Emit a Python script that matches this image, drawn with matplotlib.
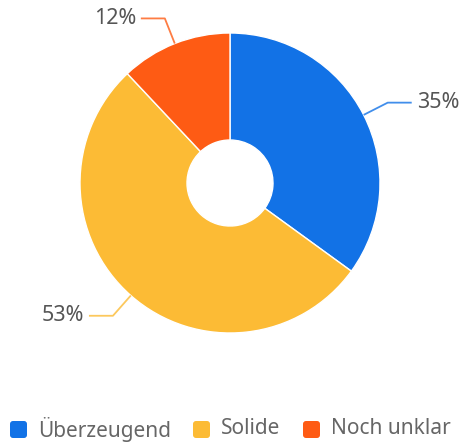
import numpy as np
import matplotlib
matplotlib.use("Agg")
from matplotlib import pyplot as plt
from matplotlib.patches import FancyBboxPatch

labels = ["Überzeugend", "Solide", "Noch unklar"]
values = [35, 53, 12]
colors = ["#1272e6", "#fcbb35", "#fe5b14"]

plt.rcParams["font.family"] = ["Noto Sans", "DejaVu Sans"]

fig = plt.figure(figsize=(4.69, 4.42), dpi=100)
ax = fig.add_axes([0, 0, 1, 1])
ax.axis("off")

cx, cy = 230, 259
r = 150
wedges, _ = ax.pie(values, colors=colors, startangle=90, counterclock=False,
                   radius=r, center=(cx, cy),
                   wedgeprops=dict(width=107, edgecolor="white", linewidth=1))
ax.set_xlim(0, 469)
ax.set_ylim(0, 442)

# labels with elbow leader lines
for w, v, c in zip(wedges, values, colors):
    ang = np.deg2rad((w.theta1 + w.theta2) / 2)
    x0, y0 = cx + r * np.cos(ang), cy + r * np.sin(ang)
    x1, y1 = cx + (r + 27) * np.cos(ang), cy + (r + 27) * np.sin(ang)
    side = 1 if np.cos(ang) > 0 else -1
    x2 = x1 + side * 24
    ax.plot([x0, x1, x2], [y0, y1, y1], color=c, lw=1.3, alpha=0.8,
            solid_capstyle="butt")
    ax.text(x2 + side * 5, y1, f"{v}%", ha="left" if side > 0 else "right",
            va="center", fontsize=15.5, color="#555555")

# legend
lx = [10, 193, 303]
for x, lab, c in zip(lx, labels, colors):
    ax.add_patch(FancyBboxPatch((x, 4), 17, 17, boxstyle="round,pad=0,rounding_size=3",
                                facecolor=c, edgecolor="none"))
    ax.text(x + 28, 13, lab, ha="left", va="center", fontsize=15, color="#666666")

fig.savefig("out.png", dpi=100)
